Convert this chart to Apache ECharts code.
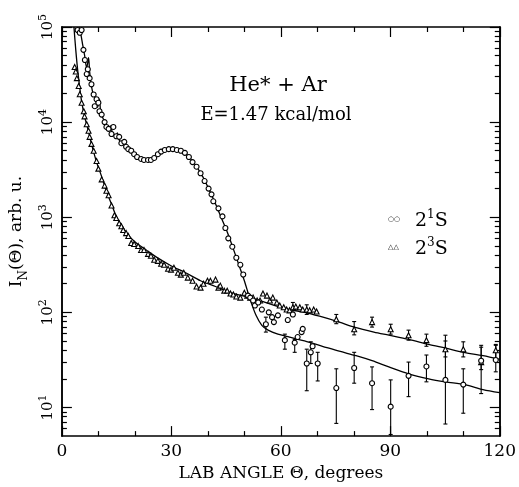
<!DOCTYPE html>
<html><head><meta charset="utf-8">
<script src="https://cdn.jsdelivr.net/npm/echarts@6/dist/echarts.min.js"></script>
<style>html,body{margin:0;padding:0;background:#fff}#c{width:519px;height:487px}</style>
</head><body><div id="c"></div>
<script>
// ---- tick labels ----
const xTickLabels = [0, 30, 60, 90, 120];
const yDecadeExponents = [1, 2, 3, 4, 5];
const yMinValue = 5, yMaxValue = 1e5;

// ---- 2^1S (circles): [angle, intensity] ----
const singletPoints = [
 [4.3,9.3e4],[4.9,8.7e4],[5.4,9.3e4],[5.9,5.75e4],[6.3,4.5e4],[6.8,3.2e4],[7.1,3.6e4],[7.6,2.9e4],
 [8.1,2.5e4],[8.7,1.95e4],[9.0,1.47e4],[9.5,1.74e4],[10.0,1.6e4],[10.3,1.3e4],[10.9,1.2e4],[11.7,1.0e4],
 [12.2,8.9e3],[12.8,8.5e3],[13.6,7.5e3],[14.1,8.9e3],[14.9,7.1e3],[15.7,7.0e3],[16.3,6.0e3],[17.1,6.2e3],
 [17.6,5.5e3],[18.2,5.2e3],[19.0,5.0e3],[19.8,4.6e3],[20.6,4.3e3],[21.7,4.1e3],[22.5,4.0e3],[23.6,4.0e3],
 [24.4,4.0e3],[25.3,4.2e3],[26.3,4.6e3],[27.2,4.9e3],[28.2,5.1e3],[29.3,5.2e3],[30.4,5.2e3],[31.5,5.1e3],
 [32.6,5.0e3],[33.7,4.75e3],[34.8,4.3e3],[35.8,3.8e3],[36.9,3.4e3],[38.0,2.9e3],[39.1,2.4e3],[40.2,2.0e3],
 [41.0,1.74e3],[41.5,1.47e3],[42.9,1.24e3],[44.0,1.02e3],[44.8,770],[45.6,600],[46.7,490],[47.8,375],
 [48.9,316],[49.7,250],[51.0,150],[51.6,143],[52.4,133],[52.9,118],[53.8,127],[54.8,107],[55.9,75],
 [56.7,100],[57.6,89],[58.1,79],[59.2,93],[61.1,51],[61.9,83],[63.3,95],[63.8,48],[64.6,55],[65.7,62],
 [66.0,67],[67.1,29],[68.2,38],[68.7,44],[70.1,29],[75.2,16],[80.1,26],[85.0,18],[90.1,10.2],[95.0,21.5],
 [99.9,27],[105.1,19.5],[110.0,17.4],[114.9,31],[118.9,31.6]
];
// [angle, low, high]
const singletErrors = [
 [55.9,62,89],[61.1,41,59],[63.8,38,52],[67.1,15,41],[68.2,29,49],[70.1,19,38],[75.2,6.8,25.5],
 [80.1,18,38],[85.0,9.5,26.7],[90.1,5.2,19.5],[95.0,13,30],[99.9,18.6,35.6],[105.1,6.7,57.5],
 [110.0,8.7,25.5],[114.9,14,43],[118.9,23.7,45]
];

// ---- 2^3S (triangles): [angle, intensity] ----
const tripletPoints = [
 [3.5,3.8e4],[3.8,3.4e4],[4.1,2.9e4],[4.6,2.4e4],[4.9,1.96e4],[5.4,1.6e4],[6.0,1.3e4],[6.2,1.15e4],
 [6.8,9.5e3],[7.3,8.1e3],[7.6,7.0e3],[8.1,5.9e3],[8.7,5.0e3],[9.5,3.9e3],[10.0,3.24e3],[10.9,2.5e3],
 [11.7,2.15e3],[12.2,1.9e3],[12.8,1.7e3],[13.6,1.33e3],[14.4,1.05e3],[14.9,980],[15.7,866],[16.3,805],
 [16.8,733],[17.6,681],[18.2,634],[19.0,536],[19.8,523],[20.9,499],[21.7,453],[22.5,453],[23.6,412],
 [24.4,393],[25.3,357],[26.3,348],[27.2,324],[28.0,316],[29.1,287],[29.9,281],[30.7,294],[31.8,261],
 [32.6,249],[33.4,261],[34.5,232],[35.8,215],[36.9,187],[38.0,182],[38.8,200],[39.9,215],[40.7,215],
 [42.1,221],[42.9,182],[43.4,191],[44.5,169],[45.3,169],[46.2,158],[47.0,154],[47.8,147],[48.9,143],
 [50.0,161],[50.8,150],[51.6,143],[52.4,143],[53.5,133],[54.3,133],[55.1,158],[56.2,150],[57.0,133],
 [57.8,143],[58.9,127],[59.7,118],[60.8,113],[61.6,107],[62.4,105],[63.3,113],[64.1,115],[65.2,113],
 [66.0,107],[67.1,107],[67.9,105],[69.0,107],[69.8,102],
 [75.2,84.5],[80.1,66.5],[85.0,79],[90.1,66.5],[95.0,57.5],[99.9,51],[105.1,41],[110.0,41],[114.9,30],[118.9,40]
];
const tripletErrors = [
 [63.3,100,127],[67.1,95,120],[75.2,76,95],[80.1,58,80],[85.0,70,89],[90.1,59,75],[95.0,51,65],
 [99.9,44,59],[105.1,34,50],[110.0,34,49],[114.9,25,45],[118.9,32,46]
];

// ---- fitted curves: [angle, intensity] ----
const singletFit = [
 [4.6,1e5],[5.2,8.3e4],[5.7,6.5e4],[6.2,5.1e4],[6.8,3.7e4],[7.3,4.75e4],[7.6,3.4e4],[7.9,2.7e4],
 [8.4,2.1e4],[9.2,1.74e4],[9.8,1.43e4],[10.3,1.74e4],[10.6,1.3e4],[11.1,1.13e4],[11.9,9.8e3],[12.8,8.5e3],
 [13.3,9.1e3],[13.8,7.9e3],[14.7,7.1e3],[15.2,7.7e3],[15.7,6.5e3],[16.6,5.9e3],[17.6,5.4e3],[19.0,4.9e3],
 [20.6,4.3e3],[22.3,4.1e3],[23.9,4.0e3],[25.5,4.2e3],[27.2,4.75e3],[28.8,5.1e3],[30.4,5.2e3],[32.0,5.1e3],
 [33.7,4.75e3],[35.3,4.1e3],[36.9,3.4e3],[38.6,2.67e3],[40.2,2.0e3],[41.8,1.47e3],[43.4,1.05e3],[45.1,733],
 [46.7,499],[48.3,332],[50.0,215],[51.6,136],[53.2,93],[54.8,73],[56.5,65],[59.2,59],[62.4,55],[66.5,50],
 [71.4,44],[76.0,39],[80.6,35],[85.0,31],[89.6,26.7],[95.0,22.6],[100.5,20],[105.1,18.6],[110.5,17.4],
 [115.4,15.4],[120,14.3]
];
const tripletFit = [
 [3.3,1e5],[3.8,5.75e4],[4.3,3.6e4],[4.9,2.3e4],[5.4,1.65e4],[6.2,1.15e4],[7.1,8.5e3],[8.1,5.9e3],
 [9.5,3.8e3],[10.9,2.67e3],[12.2,1.87e3],[13.6,1.37e3],[14.9,1.02e3],[16.3,826],[18.2,649],[20.4,536],
 [23.1,453],[25.8,383],[29.9,309],[33.9,261],[38.0,215],[42.1,187],[46.2,161],[50.2,147],[54.3,133],
 [58.4,118],[62.4,107],[66.5,100],[70.6,91],[76.0,79],[80.1,70],[85.5,62],[89.6,57.5],[95.0,52],
 [100.5,46],[105.1,42],[110.0,38],[115.4,35],[120,32]
];

// ---- build ----
const L = Math.log10;
const toLog = arr => arr.map(p => [p[0], L(p[1])]);
const errToLog = arr => arr.map(p => [p[0], L(p[1]), L(p[2])]);
const minorTickVals = [];
for (let e = 0; e < 5; e++) for (let m = 2; m <= 9; m++) {
  const v = L(m) + e; if (v > L(yMinValue) && v < L(yMaxValue)) minorTickVals.push(v);
}
const FONT = 'DejaVu Serif';
const yMin = L(yMinValue), yMax = L(yMaxValue);
function yAx(pos, custom, len, labels, name) {
  return {
    type: 'value', position: pos, min: yMin, max: yMax,
    axisLine: { show: true, lineStyle: { color: '#000', width: 1.5 } },
    splitLine: { show: false },
    axisTick: { show: true, inside: true, length: len, customValues: custom, lineStyle: { color: '#000', width: 1.2 } },
    axisLabel: labels ? {
      show: true, customValues: yDecadeExponents, rotate: 90, margin: 6,
      formatter: v => '{b|10}{s|' + Math.round(v) + '}',
      rich: { b: { fontFamily: FONT, fontSize: 15, color: '#000', lineHeight: 18, verticalAlign: 'bottom' },
              s: { fontFamily: FONT, fontSize: 11, color: '#000', lineHeight: 18, verticalAlign: 'top' } }
    } : { show: false },
    name: name || '', nameLocation: 'middle', nameGap: 24, nameRotate: 90,
    nameTextStyle: {
      rich: { a: { fontFamily: FONT, fontSize: 17, color: '#000', lineHeight: 22, verticalAlign: 'top' },
              n: { fontFamily: FONT, fontSize: 12, color: '#000', lineHeight: 22, verticalAlign: 'bottom' } }
    }
  };
}
function xAx(pos, labels) {
  return {
    type: 'value', position: pos, min: 0, max: 120, interval: 30,
    axisLine: { show: true, lineStyle: { color: '#000', width: 1.5 } },
    splitLine: { show: false },
    axisTick: { show: true, inside: true, length: 10, lineStyle: { color: '#000', width: 1.2 } },
    minorTick: { show: true, splitNumber: 3, length: 5, lineStyle: { color: '#000', width: 1.2 } },
    axisLabel: labels ? { show: true, margin: 7, fontFamily: FONT, fontSize: 17, color: '#000',
      customValues: xTickLabels } : { show: false },
    name: labels ? 'LAB ANGLE \u0398, degrees' : '', nameLocation: 'middle', nameGap: 22,
    nameTextStyle: { fontFamily: FONT, fontSize: 17, color: '#000' }
  };
}
function errSeries(data) {
  return {
    type: 'custom', xAxisIndex: 0, yAxisIndex: 0, data: errToLog(data), z: 3,
    renderItem: (params, api) => {
      const lo = api.coord([api.value(0), api.value(1)]);
      const hi = api.coord([api.value(0), api.value(2)]);
      const st = { stroke: '#000', lineWidth: 1.1 };
      return { type: 'group', children: [
        { type: 'line', shape: { x1: lo[0], y1: lo[1], x2: hi[0], y2: hi[1] }, style: st },
        { type: 'line', shape: { x1: lo[0] - 2, y1: lo[1], x2: lo[0] + 2, y2: lo[1] }, style: st },
        { type: 'line', shape: { x1: hi[0] - 2, y1: hi[1], x2: hi[0] + 2, y2: hi[1] }, style: st }
      ] };
    }
  };
}
const chart = echarts.init(document.getElementById('c'), null, { renderer: 'canvas' });
chart.setOption({
  backgroundColor: '#fff',
  animation: false,
  grid: { left: 60, right: 17, top: 27, bottom: 48 },
  xAxis: [xAx('bottom', true), xAx('top', false)],
  yAxis: [
    yAx('left', yDecadeExponents, 10, true, '{a|I}{n|N}{a|(\u0398), arb. u.}'),
    yAx('left', minorTickVals, 5, false),
    yAx('right', yDecadeExponents, 10, false),
    yAx('right', minorTickVals, 5, false)
  ],
  graphic: [
    { type: 'text', x: 278, y: 86, style: { text: 'He* + Ar', fontFamily: FONT, fontSize: 21, fill: '#000', align: 'center', verticalAlign: 'middle' } },
    { type: 'text', x: 276, y: 115, style: { text: 'E=1.47 kcal/mol', fontFamily: FONT, fontSize: 18, fill: '#000', align: 'center', verticalAlign: 'middle' } },
    { type: 'text', x: 388, y: 219, style: { text: '\u25CB\u25CB', fontFamily: 'DejaVu Sans', fontSize: 7, fill: '#000', align: 'left', verticalAlign: 'middle' } },
    { type: 'text', x: 388, y: 247, style: { text: '\u25B3\u25B3', fontFamily: 'DejaVu Sans', fontSize: 7, fill: '#000', align: 'left', verticalAlign: 'middle' } },
    { type: 'text', x: 415, y: 220, style: { text: '{b|2}{s|1}{b|S}', align: 'left', verticalAlign: 'middle',
      rich: { b: { fontFamily: FONT, fontSize: 19, fill: '#000', lineHeight: 22, verticalAlign: 'bottom' }, s: { fontFamily: FONT, fontSize: 12, fill: '#000', lineHeight: 22, verticalAlign: 'top' } } } },
    { type: 'text', x: 415, y: 248, style: { text: '{b|2}{s|3}{b|S}', align: 'left', verticalAlign: 'middle',
      rich: { b: { fontFamily: FONT, fontSize: 19, fill: '#000', lineHeight: 22, verticalAlign: 'bottom' }, s: { fontFamily: FONT, fontSize: 12, fill: '#000', lineHeight: 22, verticalAlign: 'top' } } } }
  ],
  series: [
    { type: 'line', data: toLog(singletFit), smooth: 0.3, symbol: 'none', lineStyle: { color: '#000', width: 1.3 }, z: 2 },
    { type: 'line', data: toLog(tripletFit), smooth: 0.3, symbol: 'none', lineStyle: { color: '#000', width: 1.3 }, z: 2 },
    errSeries(singletErrors),
    errSeries(tripletErrors),
    { type: 'scatter', data: toLog(tripletPoints), symbol: 'triangle', symbolSize: 5, z: 4,
      itemStyle: { color: '#fff', borderColor: '#000', borderWidth: 1.1, opacity: 1 } },
    { type: 'scatter', data: toLog(singletPoints), symbol: 'circle', symbolSize: 5, z: 5,
      itemStyle: { color: '#fff', borderColor: '#000', borderWidth: 1.1, opacity: 1 } }
  ]
});
</script></body></html>
